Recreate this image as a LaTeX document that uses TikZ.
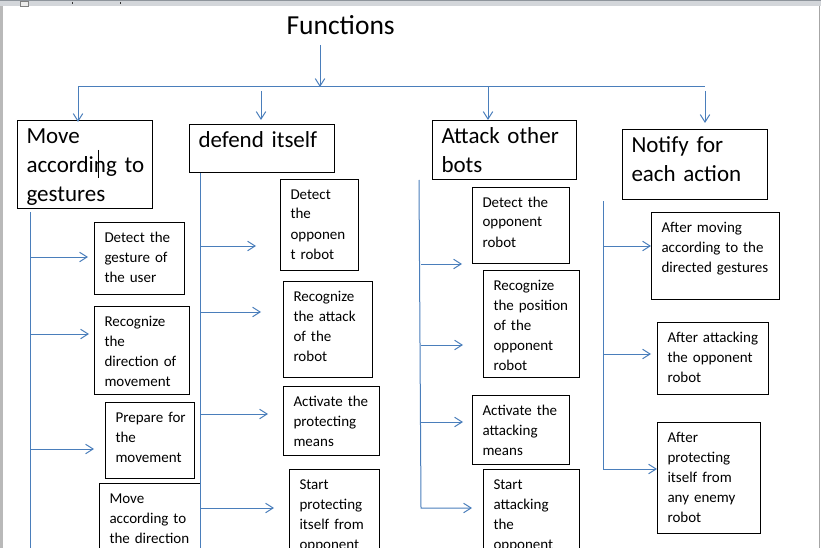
\documentclass[tikz,border=0pt]{standalone}
\usepackage{fontspec}
\setmainfont{Carlito}[WordSpace=0.75]
\usetikzlibrary{arrows.meta}
\definecolor{linkblue}{HTML}{4A7EBB}
\definecolor{chrome}{HTML}{D3D6DA}
\definecolor{chromedark}{HTML}{8E949B}

\begin{document}
\begin{tikzpicture}[x=1pt, y=-1pt,
    >={Straight Barb[length=7.5pt,width=9.5pt]},
    every node/.style={anchor=north west, align=left, inner ysep=0pt},
    headbox/.style={draw, line width=1pt, inner xsep=9pt, text height=23pt,
        font=\fontsize{23}{29}\selectfont},
    itembox/.style={draw, line width=1pt, inner xsep=10pt, text height=19.5pt,
        font=\fontsize{15}{20}\selectfont},
    link/.style={draw=linkblue, line width=1pt}
]
    \useasboundingbox (0,0) rectangle (821,548);
    \clip (0,0) rectangle (821,548);

    %window
    \fill[chrome] (0,0) rectangle (821,6);
    \draw[chromedark] (0,0.5) -- (821,0.5);
    \draw[gray, fill=white!85!gray] (20,1) rectangle (28,6);
    \draw[gray!40!black] (72,2) -- (72,4);
    \draw[gray!40!black] (120,2) -- (120,4);
    \fill[gray!55] (0,6) rectangle (3,548);
    \draw[gray!70, line width=1pt] (819.5,6) -- (819.5,548);

    %title
    \node (functions) [anchor=base, font=\fontsize{27.5}{32}\selectfont] at (343,35)
    {
        Functions
    };

    %heads
    \node (move) [headbox, text width=117pt, text depth=65pt] at (17,120)
    {
        Move\\according~to\\gestures
    };
    \node (defend) [headbox, text width=127pt, text depth=25pt] at (189,124)
    {
        defend itself
    };
    \node (attack) [headbox, text width=126pt, text depth=36pt] at (432,120)
    {
        Attack other\\bots
    };
    \node (notify) [headbox, text width=127pt, text depth=47pt] at (622,129)
    {
        Notify for\\each action
    };

    %move
    \node (gesture) [itembox, text width=70pt, text depth=52.5pt] at (94,222)
    {
        Detect the\\gesture of\\the user
    };
    \node (direction) [itembox, text width=75pt, text depth=68.5pt] at (94,306)
    {
        Recognize\\the\\direction~of\\movement
    };
    \node (prepare) [itembox, text width=69pt, text depth=56.5pt] at (105,402)
    {
        Prepare~for\\the\\movement
    };
    \node (movedir) [itembox, text width=81pt, text depth=100pt] at (99,483)
    {
        Move\\according~to\\the~direction
    };

    %defend
    \node (detectopp) [itembox, text width=58pt, text depth=71.5pt] at (280,179)
    {
        Detect\\the\\opponen\\t robot
    };
    \node (recattack) [itembox, text width=69pt, text depth=76.5pt] at (283,281)
    {
        Recognize\\the~attack\\of the\\robot
    };
    \node (protmeans) [itembox, text width=76pt, text depth=49.5pt] at (283,386)
    {
        Activate~the\\protecting\\means
    };
    \node (startprot) [itembox, text width=70pt, text depth=100pt] at (289,469)
    {
        Start\\protecting\\itself~from\\opponent
    };

    %attack
    \node (findopp) [itembox, text width=77pt, text depth=56.5pt] at (472,187)
    {
        Detect the\\opponent\\robot
    };
    \node (position) [itembox, text width=76pt, text depth=87.5pt] at (483,270)
    {
        Recognize\\the~position\\of the\\opponent\\robot
    };
    \node (atkmeans) [itembox, text width=77pt, text depth=49.5pt] at (472,395)
    {
        Activate~the\\attacking\\means
    };
    \node (startatk) [itembox, text width=76pt, text depth=100pt] at (483,469)
    {
        Start\\attacking\\the\\opponent
    };

    %notify
    \node (aftermove) [itembox, text width=108pt, text depth=67.5pt] at (651,212)
    {
        After~moving\\according~to~the\\directed~gestures
    };
    \node (afteratk) [itembox, text width=91pt, text depth=52.5pt] at (657,322)
    {
        After~attacking\\the~opponent\\robot
    };
    \node (afterprot) [itembox, text width=83pt, text depth=91.5pt] at (657,422)
    {
        After\\protecting\\itself~from\\any~enemy\\robot
    };

    %caret
    \draw[line width=1pt] (98,150) -- (98,178);

    %tree
    \coordinate (trunk) at (320,45);
    \coordinate (busL) at (78,87);
    \coordinate (busR) at (705,87);
    \coordinate (drop2) at (261,91);
    \coordinate (drop3) at (488,87);
    \coordinate (drop4) at (705,91);
    \draw[link, ->] (trunk) -- (trunk |- busL);
    \draw[link] (busL) -- (busR);
    \draw[link, ->] (busL) -- (78,122);
    \draw[link, ->] (drop2) -- (drop2 |- move.north);
    \draw[link, ->] (drop3) -- (drop3 |- attack.north);
    \draw[link, ->] (drop4) -- (705,123);

    %move
    \coordinate (mv-top) at (30,212);
    \coordinate (mv-bot) at (30,560);
    \coordinate (mv-1) at (88,257);
    \coordinate (mv-2) at (89,334);
    \coordinate (mv-3) at (94,449);
    \draw[link] (mv-top) -- (mv-bot);
    \draw[link, ->] (mv-top |- mv-1) -- (mv-1);
    \draw[link, ->] (mv-top |- mv-2) -- (mv-2);
    \draw[link, ->] (mv-top |- mv-3) -- (mv-3);

    %defend
    \coordinate (df-top) at (200,173);
    \coordinate (df-bot) at (200,560);
    \coordinate (df-1) at (256,246);
    \coordinate (df-2) at (261,312);
    \coordinate (df-3) at (268,414);
    \coordinate (df-4) at (274,508);
    \draw[link] (df-top) -- (df-bot);
    \draw[link, ->] (df-top |- df-1) -- (df-1);
    \draw[link, ->] (df-top |- df-2) -- (df-2);
    \draw[link, ->] (df-top |- df-3) -- (df-3);
    \draw[link, ->] (df-top |- df-4) -- (df-4);

    %attack
    \coordinate (at-top) at (419,180);
    \coordinate (at-bot) at (421,508);
    \coordinate (at-1) at (462,264);
    \coordinate (at-2) at (463,345);
    \coordinate (at-3) at (463,422);
    \coordinate (at-4) at (472,508);
    \draw[link, ->] (at-top) -- (at-bot) -- (at-4);
    \draw[link, ->] (at-bot |- at-1) -- (at-1);
    \draw[link, ->] (at-bot |- at-2) -- (at-2);
    \draw[link, ->] (at-bot |- at-3) -- (at-3);

    %notify
    \coordinate (nt-top) at (603,201);
    \coordinate (nt-bot) at (603,469);
    \coordinate (nt-1) at (651,246);
    \coordinate (nt-2) at (651,354);
    \coordinate (nt-3) at (657,469);
    \draw[link, ->] (nt-top) -- (nt-bot) -- (nt-3);
    \draw[link, ->] (nt-top |- nt-1) -- (nt-1);
    \draw[link, ->] (nt-top |- nt-2) -- (nt-2);

\end{tikzpicture}
\end{document}
